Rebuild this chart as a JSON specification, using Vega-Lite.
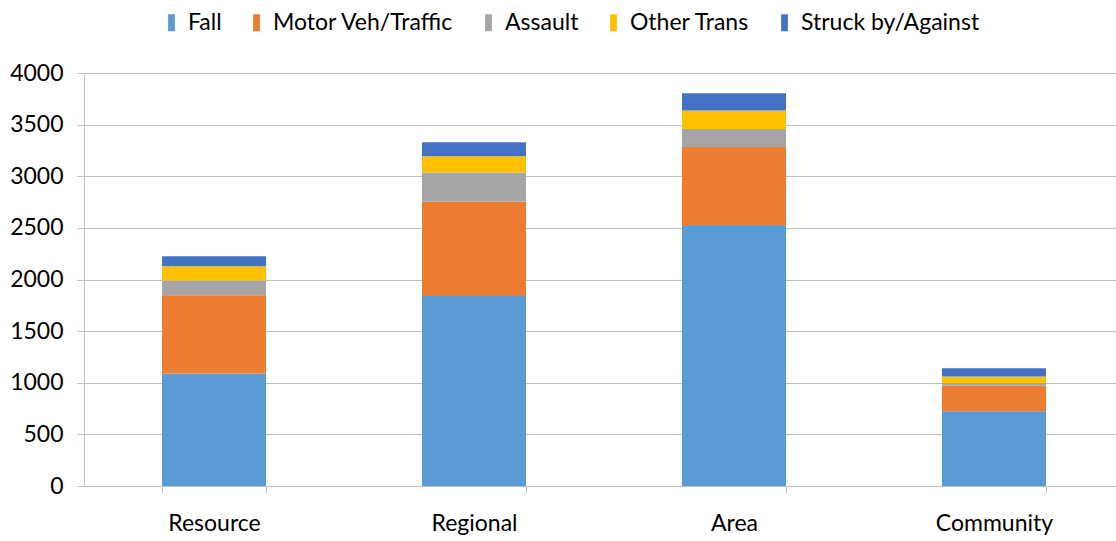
{
  "$schema": "https://vega.github.io/schema/vega-lite/v6.json",
  "width": 1040,
  "height": 413,
  "autosize": "none",
  "padding": {"left": 84, "top": 73, "right": 0, "bottom": 55},
  "background": "white",
  "config": {
    "view": {"stroke": null},
    "font": "Lato",
    "axis": {"labelFont": "Lato", "labelColor": "#000000", "labelFontSize": 23, "domainColor": "#BFBFBF", "tickColor": "#BFBFBF", "gridColor": "#BFBFBF", "tickSize": 7}
  },
  "data": {
    "values": [
      {"site": "Resource", "cause": "Fall", "k": 1, "n": 1090},
      {"site": "Resource", "cause": "Motor Veh/Traffic", "k": 2, "n": 758},
      {"site": "Resource", "cause": "Assault", "k": 3, "n": 142},
      {"site": "Resource", "cause": "Other Trans", "k": 4, "n": 139},
      {"site": "Resource", "cause": "Struck by/Against", "k": 5, "n": 96},
      {"site": "Regional", "cause": "Fall", "k": 1, "n": 1840},
      {"site": "Regional", "cause": "Motor Veh/Traffic", "k": 2, "n": 915},
      {"site": "Regional", "cause": "Assault", "k": 3, "n": 281},
      {"site": "Regional", "cause": "Other Trans", "k": 4, "n": 158},
      {"site": "Regional", "cause": "Struck by/Against", "k": 5, "n": 136},
      {"site": "Area", "cause": "Fall", "k": 1, "n": 2517},
      {"site": "Area", "cause": "Motor Veh/Traffic", "k": 2, "n": 767},
      {"site": "Area", "cause": "Assault", "k": 3, "n": 174},
      {"site": "Area", "cause": "Other Trans", "k": 4, "n": 178},
      {"site": "Area", "cause": "Struck by/Against", "k": 5, "n": 168},
      {"site": "Community", "cause": "Fall", "k": 1, "n": 723},
      {"site": "Community", "cause": "Motor Veh/Traffic", "k": 2, "n": 249},
      {"site": "Community", "cause": "Assault", "k": 3, "n": 26},
      {"site": "Community", "cause": "Other Trans", "k": 4, "n": 62},
      {"site": "Community", "cause": "Struck by/Against", "k": 5, "n": 81}
    ]
  },
  "mark": {"type": "bar"},
  "encoding": {
    "x": {
      "field": "site", "type": "nominal",
      "sort": ["Resource", "Regional", "Area", "Community"],
      "scale": {"paddingInner": 0.6, "paddingOuter": 0.3},
      "axis": {"title": null, "labelAngle": 0, "tickBand": "extent", "labelPadding": 19, "domainColor": "#BFBFBF"}
    },
    "y": {
      "field": "n", "type": "quantitative", "stack": "zero",
      "scale": {"domain": [0, 4000], "nice": false},
      "axis": {"title": null, "format": "d", "values": [0, 500, 1000, 1500, 2000, 2500, 3000, 3500, 4000], "labelPadding": 14, "grid": true}
    },
    "color": {
      "field": "cause", "type": "nominal",
      "scale": {
        "domain": ["Fall", "Motor Veh/Traffic", "Assault", "Other Trans", "Struck by/Against"],
        "range": ["#5B9BD5", "#ED7D31", "#A5A5A5", "#FFC000", "#4472C4"]
      },
      "legend": {
        "title": null, "orient": "none", "direction": "horizontal",
        "legendX": 76, "legendY": -62,
        "symbolType": "M-0.4,-1H0.4V1H-0.4Z", "symbolSize": 289,
        "symbolStrokeWidth": 0,
        "labelFont": "Lato", "labelFontSize": 23, "labelColor": "#000000", "labelLimit": 400,
        "labelOffset": 5, "columnPadding": 23
      }
    },
    "order": {"field": "k", "type": "quantitative", "sort": "ascending"}
  }
}
